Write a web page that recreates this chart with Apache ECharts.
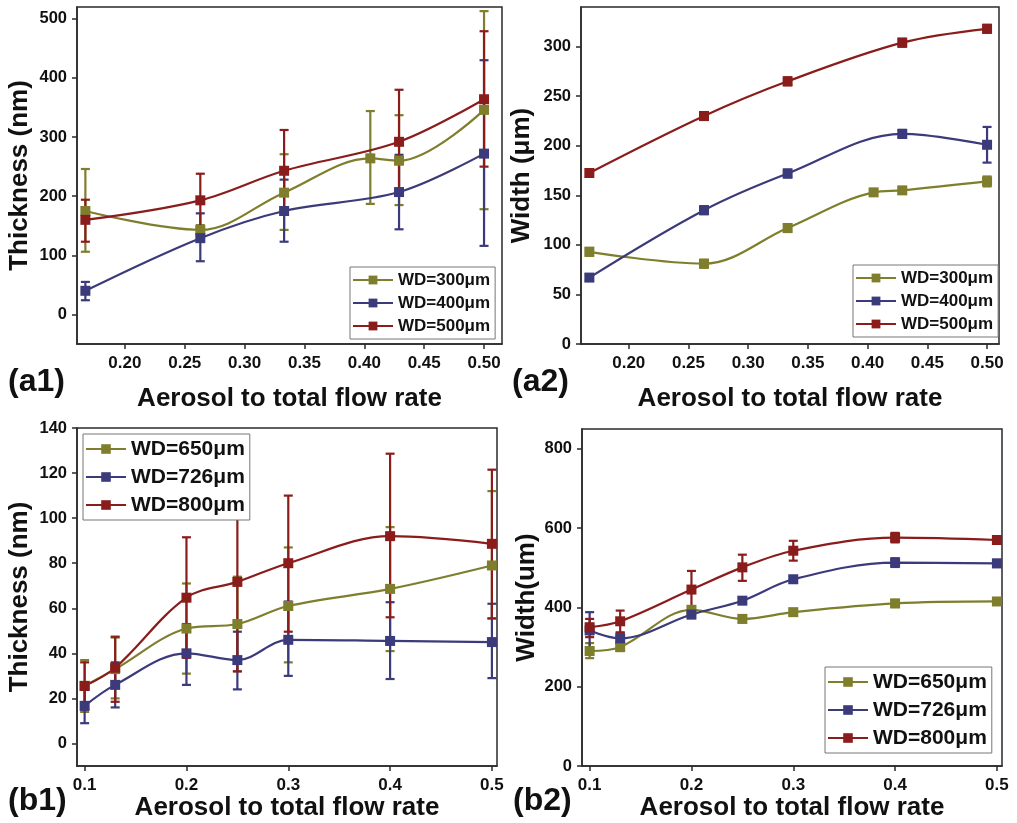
<!DOCTYPE html>
<html><head><meta charset="utf-8">
<script src="https://cdn.jsdelivr.net/npm/echarts@6/dist/echarts.min.js"></script>
<style>html,body{margin:0;padding:0;background:#fff}#c{width:1017px;height:823px}</style>
</head><body><div id="c"></div>
<script>
// ---- legend names ----
const namesA = ['WD=300μm', 'WD=400μm', 'WD=500μm'];
const namesB = ['WD=650μm', 'WD=726μm', 'WD=800μm'];

// ---- x values ----
const xA6 = [0.167, 0.263, 0.333, 0.405, 0.429, 0.5];
const xA5 = [0.167, 0.263, 0.333, 0.429, 0.5];
const xB = [0.1, 0.13, 0.2, 0.25, 0.3, 0.4, 0.5];

// ---- (a1) thickness (nm) ----
const thk300 = [175, 143, 206, 264, 260, 346];
const thk300Lo = [106, 135, 143, 187, 185, 178];
const thk300Hi = [246, 151, 271, 344, 337, 513];
const thk400 = [40, 129, 175, 207, 272];
const thk400Lo = [24, 90, 123, 144, 116];
const thk400Hi = [55, 171, 228, 270, 430];
const thk500 = [160, 193, 243, 292, 364];
const thk500Lo = [123, 148, 174, 204, 250];
const thk500Hi = [194, 238, 312, 380, 479];

// ---- (a2) width (um) ----
const wid300 = [93, 81, 117, 153, 155, 164];
const wid300Lo = [89, 77, 113, 150, 152, 159];
const wid300Hi = [97, 85, 121, 156, 158, 169];
const wid400 = [67, 135, 172, 212, 201];
const wid400Lo = [64, 131, 168, 208, 183];
const wid400Hi = [70, 139, 176, 216, 219];
const wid500 = [172.5, 230, 265, 304, 318];
const wid500Lo = [169, 226, 261, 300, 314];
const wid500Hi = [176, 234, 269, 308, 322];

// ---- (b1) thickness (nm) ----
const thk650 = [25.6, 33, 51, 53, 61, 68.6, 79];
const thk650Lo = [14, 20, 31, 32, 36, 41, 55.5];
const thk650Hi = [37, 47, 71, 74, 87, 96, 112];
const thk726 = [16.7, 26, 40, 37, 46, 45.5, 45];
const thk726Lo = [9, 16, 26, 24, 30, 28.6, 29];
const thk726Hi = [24, 36, 53, 49.6, 63, 62.7, 62];
const thk800 = [25.5, 33.6, 64.7, 71.7, 80, 92, 88.6];
const thk800Lo = [15, 18.5, 38, 32, 49.6, 56, 55.5];
const thk800Hi = [36, 47.4, 91.5, 111, 110, 128.6, 121.5];

// ---- (b2) width (um) ----
const wid650 = [290, 300, 394, 371, 388, 410, 415];
const wid650Lo = [272, 290, 385, 362, 380, 401, 407];
const wid650Hi = [310, 310, 403, 380, 396, 419, 423];
const wid726 = [342, 322, 382, 417, 471, 513, 511];
const wid726Lo = [296, 308, 373, 409, 463, 502, 502];
const wid726Hi = [388, 336, 391, 425, 479, 524, 520];
const wid800 = [350, 365, 445, 501, 543, 576, 570];
const wid800Lo = [325, 337, 400, 467, 518, 564, 562];
const wid800Hi = [371, 392, 492, 533, 568, 588, 578];

// ---- tick values ----
const xTicksA = [0.20, 0.25, 0.30, 0.35, 0.40, 0.45, 0.50];
const xTicksB = [0.1, 0.2, 0.3, 0.4, 0.5];
const yTicksA1 = [0, 100, 200, 300, 400, 500];
const yTicksA2 = [0, 50, 100, 150, 200, 250, 300];
const yTicksB1 = [0, 20, 40, 60, 80, 100, 120, 140];
const yTicksB2 = [0, 200, 400, 600, 800];

const xTitle = 'Aerosol to total flow rate';
const yTitles = ['Thickness (nm)', 'Width (μm)', 'Thickness (nm)', 'Width(um)'];
const panelLabels = ['(a1)', '(a2)', '(b1)', '(b2)'];

const GREEN = '#7e7e2c', BLUE = '#3b3a7a', RED = '#8a1c1c';
const FONT = '"Liberation Sans", Arial, sans-serif';
const AX = '#2a2a2a';

const grids = [
  {left: 77, top: 7, width: 425, height: 337},
  {left: 581, top: 7, width: 418, height: 337},
  {left: 77, top: 428, width: 420, height: 338},
  {left: 582, top: 429, width: 420, height: 337}
].map(g => Object.assign(g, {show: true, borderColor: AX, borderWidth: 1.5, backgroundColor: 'transparent'}));

function mkX(idx, min, max, ticks, dec, gap) {
  return {
    type: 'value', gridIndex: idx, min, max,
    name: xTitle, nameLocation: 'middle', nameGap: gap,
    nameTextStyle: {fontFamily: FONT, fontWeight: 'bold', fontSize: 26, color: '#111'},
    axisLine: {show: true, onZero: false, lineStyle: {color: AX, width: 1.5}},
    axisTick: {show: true, customValues: ticks, length: 5, lineStyle: {color: AX, width: 1.5}},
    axisLabel: {customValues: ticks, formatter: v => Number(v).toFixed(dec), fontFamily: FONT, fontWeight: 'bold', fontSize: 17, color: '#111', margin: 11},
    splitLine: {show: false}
  };
}
function mkY(idx, min, max, ticks, gap) {
  return {
    type: 'value', gridIndex: idx, min, max,
    name: yTitles[idx], nameLocation: 'middle', nameGap: gap,
    nameTextStyle: {fontFamily: FONT, fontWeight: 'bold', fontSize: 26, color: '#111'},
    axisLine: {show: true, onZero: false, lineStyle: {color: AX, width: 1.5}},
    axisTick: {show: true, customValues: ticks, length: 5, lineStyle: {color: AX, width: 1.5}},
    axisLabel: {customValues: ticks, fontFamily: FONT, fontWeight: 'bold', fontSize: 16.5, color: '#111', margin: 10},
    splitLine: {show: false}
  };
}

const series = [];
function errRenderer(color) {
  return function (params, api) {
    const x = api.value(0), lo = api.value(1), hi = api.value(2);
    const p1 = api.coord([x, lo]), p2 = api.coord([x, hi]);
    const w = 4.5;
    const style = {stroke: color, lineWidth: 2.2};
    return {type: 'group', children: [
      {type: 'line', shape: {x1: p1[0], y1: p1[1], x2: p2[0], y2: p2[1]}, style},
      {type: 'line', shape: {x1: p1[0] - w, y1: p1[1], x2: p1[0] + w, y2: p1[1]}, style},
      {type: 'line', shape: {x1: p2[0] - w, y1: p2[1], x2: p2[0] + w, y2: p2[1]}, style}
    ]};
  };
}
function add(idx, name, color, xs, ys, lo, hi) {
  series.push({
    type: 'custom', name: name + '-err-' + idx, xAxisIndex: idx, yAxisIndex: idx,
    data: xs.map((x, i) => [x, lo[i], hi[i]]), encode: {x: 0, y: [1, 2]},
    renderItem: errRenderer(color), z: 2, silent: true
  });
  series.push({
    type: 'line', name, xAxisIndex: idx, yAxisIndex: idx,
    data: xs.map((x, i) => [x, ys[i]]), smooth: 0.35,
    symbol: 'rect', symbolSize: 10, showAllSymbol: true,
    lineStyle: {width: 2.2, color}, itemStyle: {color}, z: 3
  });
}
add(0, namesA[0], GREEN, xA6, thk300, thk300Lo, thk300Hi);
add(0, namesA[1], BLUE, xA5, thk400, thk400Lo, thk400Hi);
add(0, namesA[2], RED, xA5, thk500, thk500Lo, thk500Hi);
add(1, namesA[0], GREEN, xA6, wid300, wid300Lo, wid300Hi);
add(1, namesA[1], BLUE, xA5, wid400, wid400Lo, wid400Hi);
add(1, namesA[2], RED, xA5, wid500, wid500Lo, wid500Hi);
add(2, namesB[0], GREEN, xB, thk650, thk650Lo, thk650Hi);
add(2, namesB[1], BLUE, xB, thk726, thk726Lo, thk726Hi);
add(2, namesB[2], RED, xB, thk800, thk800Lo, thk800Hi);
add(3, namesB[0], GREEN, xB, wid650, wid650Lo, wid650Hi);
add(3, namesB[1], BLUE, xB, wid726, wid726Lo, wid726Hi);
add(3, namesB[2], RED, xB, wid800, wid800Lo, wid800Hi);

function mkLegend(data, left, top, fs, lh, gap, ih) {
  return {
    data, orient: 'vertical', left, top, itemWidth: 40, itemHeight: ih, itemGap: gap,
    padding: [3, 5, 3, 2], borderColor: '#777', borderWidth: 1, backgroundColor: '#fff',
    textStyle: {fontFamily: FONT, fontWeight: 'bold', fontSize: fs, lineHeight: lh, color: '#111'},
    selectedMode: false
  };
}

const graphic = [
  {type: 'text', left: 8, top: 366, style: {text: panelLabels[0], font: 'bold 32px ' + FONT, fill: '#111'}},
  {type: 'text', left: 512, top: 366, style: {text: panelLabels[1], font: 'bold 32px ' + FONT, fill: '#111'}},
  {type: 'text', left: 8, top: 785, style: {text: panelLabels[2], font: 'bold 32px ' + FONT, fill: '#111'}},
  {type: 'text', left: 513, top: 785, style: {text: panelLabels[3], font: 'bold 32px ' + FONT, fill: '#111'}}
];

const chart = echarts.init(document.getElementById('c'), null, {renderer: 'canvas'});
chart.setOption({
  animation: false,
  backgroundColor: '#fff',
  grid: grids,
  xAxis: [
    mkX(0, 0.16, 0.515, xTicksA, 2, 42),
    mkX(1, 0.16, 0.51, xTicksA, 2, 42),
    mkX(2, 0.0925, 0.505, xTicksB, 1, 29),
    mkX(3, 0.0925, 0.505, xTicksB, 1, 29)
  ],
  yAxis: [
    mkY(0, -50, 520, yTicksA1, 44),
    mkY(1, 0, 340, yTicksA2, 46),
    mkY(2, -10, 140, yTicksB1, 44),
    mkY(3, 0, 850, yTicksB2, 42)
  ],
  legend: [
    mkLegend(namesA, 350, 267, 17, 20, 3, 11),
    mkLegend(namesA, 853, 265, 17, 20, 3, 11),
    mkLegend(namesB, 83, 434, 21, 24, 4, 12),
    mkLegend(namesB, 825, 667, 21, 24, 4, 12)
  ],
  graphic,
  series
});
</script>
</body></html>
